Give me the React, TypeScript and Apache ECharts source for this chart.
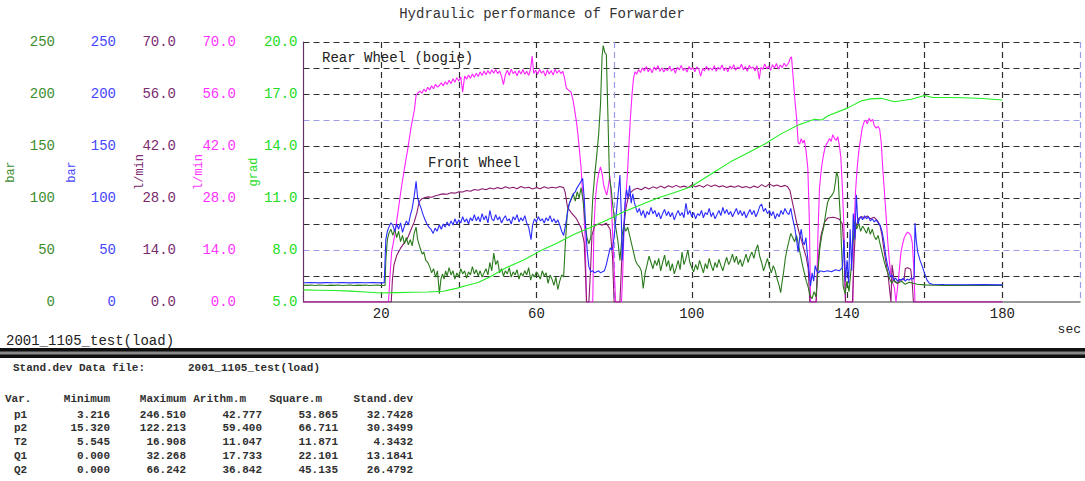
import React, { useEffect, useRef } from 'react';
import * as echarts from 'echarts';

const MONO = '"Liberation Mono", "DejaVu Sans Mono", monospace';

const chartTitle = 'Hydraulic performance of Forwarder';
const fileName = '2001_1105_test(load)';
const xLabelValues = [20, 60, 100, 140, 180];

// p1 (bar) dark green
const p1Data: number[][] = [
  [0,16.2],[1,16.0],[2,16.4],[3,15.9],[4,16.3],[5,16.1],[6,15.8],[7,16.2],[8,16.0],[9,16.4],[10,15.9],[11,16.1],[12,16.3],[13,15.8],[14,16.2],[15,16.0],[16,16.3],[17,15.9],[18,16.1],[19,16.2],[20,15.9],[21,16.0],
  [21.2,40],[21.6,60],[22,66],[22.5,70],[23,64],[23.5,70],[24,62],[24.5,68],[25,58],[25.5,64],[26,56],[26.5,62],[27,55],[27.5,60],[28,54],[28.5,66],[29,72],[29.4,60],[29.8,55],[30.2,50],[30.6,46],[31,48],[31.5,40],[32,38],[32.5,34],[33,28],[33.5,32],[34,24],[34.5,30],[35,8],[35.4,22],[35.8,27],[36.2,22],[36.6,30],[37,25],[37.5,33],[38,26],[38.5,30],[39,22],[39.5,28],[40,24],[40.5,32],[41,27],[41.5,30],[42,23],[42.5,29],[43,26],[43.5,34],[44,27],[44.5,31],[45,25],[45.5,30],[46,24],[46.5,28],[47,32],[47.5,26],[48,38],[48.5,30],[49,47],[49.5,36],[50,40],[50.5,28],[51,32],[51.5,25],[52,30],[52.5,27],[53,33],[53.5,24],[54,29],[54.5,26],[55,31],[55.5,22],[56,28],[56.5,25],[57,30],[57.5,26],[58,33],[58.5,21],[59,27],[59.5,24],[60,29],[60.5,26],[61,22],[61.5,30],[62,25],[62.5,28],[63,18],[63.5,26],[64,22],[64.5,16],[65,24],[65.5,12],[66,20],[66.5,26],[67,24],
  [67.5,60],[68,88],[68.5,95],[69,99],[69.5,104],[70,97],[70.5,106],[71,100],[71.5,110],[72,98],[72.5,78],[73,62],[73.5,56],[74,62],[74.5,100],[75,122],[75.5,140],[76,160],[76.5,190],[76.9,236],[77.2,246.5],[77.6,240],[78,238],[78.4,180],[78.8,120],[79.2,110],[79.6,95],[80,82],[80.5,70],[81,58],[81.5,40],[82,62],[82.5,74],[83,68],[83.5,72],[84,64],[84.5,56],[85,48],[85.5,40],[86,36],[86.5,34],[87,30],[87.5,13],[88,28],[88.5,36],[89,44],[89.5,38],[90,32],[90.5,40],
  [91,35],[91.5,42],[92,30],[92.5,38],[93,45],[93.5,34],[94,40],[94.5,30],[95,37],[95.5,27],[96,33],[96.5,40],[97,31],[97.5,48],[98,36],[98.5,42],[99,50],[99.5,38],[100,33],[100.5,29],[101,36],[101.5,31],[102,40],[102.5,34],[103,28],[103.5,37],[104,32],[104.5,42],[105,35],[105.5,30],[106,38],[106.5,33],[107,41],[107.5,35],[108,30],[108.5,37],[109,43],[109.5,36],[110,40],[110.5,46],[111,38],[111.5,44],[112,36],[112.5,41],[113,34],[113.5,40],[114,46],[114.5,38],[115,44],[115.5,48],[116,42],[116.5,50],[117,55],[117.5,44],[118,38],[118.5,30],[119,36],[119.5,42],[120,34],[120.5,28],[121,35],[121.5,30],[122,22],[122.5,16],[122.9,9],[123.3,20],[123.7,30],[124.1,42],[124.5,50],[125,58],[125.5,66],[126,62],[126.5,58],[127,64],[127.5,55],[128,45],[128.5,36],[129,28],[129.5,20],[130,14],[130.5,6],[131,3.2],[131.5,10],[132,5],[132.5,30],[133,52],[133.5,64],[134,72],[134.5,85],[135,96],[135.5,100],[136,102],[136.6,106],[137,115],[137.3,125],[137.7,120],[138,98],[138.3,80],[138.6,50],[139,15],[139.5,8],[140,20],[140.5,10],[141,30],[141.5,55],[142,78],[142.5,70],[143,76],[143.5,68],[144,73],[144.5,70],[145,66],[145.5,72],[146,65],[146.5,70],[147,63],[147.5,60],[148,64],[148.5,56],[149,48],[149.5,40],[150,33],[150.5,28],[151,22],[151.5,18],[152,21],[153,18],[154,20],[155,17],[156,19],[157,18],[158,17],[160,16.5],[165,16],[170,16.1],[175,15.9],[180,16]
];

// p2 (bar) blue
const p2Data: number[][] = [
  [0,18.5],[2,18.7],[4,18.4],[6,18.6],[8,18.5],[10,18.7],[12,18.4],[14,18.6],[16,18.5],[18,18.7],[20,18.4],[20.8,18.5],[21.2,60],[21.6,68],[22,72],[22.5,76],[23,74],[23.5,68],[24,75],[24.5,70],[25,76],[25.5,67],[26,73],[26.5,78],[27,74],[27.5,83],[28,90],[28.6,104],[29,116],[29.4,100],[29.8,95],[30.3,90],[30.8,84],[31.3,79],[31.8,75],[32.3,72],[32.8,70],[33.4,66],[33.9,71],[34.4,68],[35,74],[35.5,70],[36,75],[36.5,72],[37,77],[37.5,73],[38,78],[38.5,74],[39,80],[39.5,75],[40,79],[40.5,76],[41,82],[41.5,77],[42,80],[42.5,75],[43,81],[43.5,78],[44,84],[44.5,78],[45,82],[45.5,77],[46,85],[46.5,79],[47,83],[47.5,76],[48,88],[48.5,80],[49,78],[49.5,84],[50,79],[50.5,82],[51,76],[51.5,80],[52,83],[52.5,78],[53,80],[53.5,75],[54,82],[54.5,79],[55,84],[55.5,77],[56,81],[56.5,78],[57,83],[57.5,76],[58,72],[58.6,60],[59,74],[59.5,80],[60,77],[60.5,82],[61,78],[61.5,80],[62,76],[62.5,81],[63,78],[63.5,83],[64,77],[64.5,80],[65,76],[65.5,79],[66,74],[66.5,68],[67,64],[67.5,74],[68,86],[68.5,95],[69,100],[69.5,104],[70,106],[70.5,110],[71,113],[71.5,116],[71.9,119],[72.3,100],[72.7,70],[73.1,48],[73.5,34],[74,29],[74.5,30],[75,28],[75.5,29],[76,30],[76.5,28],[77,29],[77.5,30],[78,36],[78.5,44],[79,52],[79.5,50],[80,62],[80.4,78],[80.8,95],[81.2,110],[81.5,122],[81.8,90],[82.1,40],[82.4,60],[82.8,95],[83.2,108],[83.6,100],[84,112],[84.4,95],[84.8,104],[85.2,96],
  [85.5,92],[86,86],[86.5,90],[87,83],[87.5,88],[88,81],[88.5,87],[89,84],[89.5,91],[90,85],[90.5,88],[91,82],[91.5,86],[92,80],[92.5,85],[93,89],[93.5,83],[94,87],[94.5,82],[95,86],[95.5,79],[96,84],[96.5,88],[97,83],[97.5,86],[98,81],[98.5,95],[99,84],[99.5,88],[100,82],[100.5,86],[101,80],[101.5,85],[102,83],[102.5,88],[103,81],[103.5,86],[104,84],[104.5,90],[105,82],[105.5,86],[106,80],[106.5,84],[107,88],[107.5,83],[108,91],[108.5,85],[109,89],[109.5,84],[110,87],[110.5,82],[111,86],[111.5,90],[112,84],[112.5,88],[113,83],[113.5,87],[114,81],[114.5,85],[115,89],[115.5,84],[116,88],[116.5,82],[117,86],[117.5,92],[118,94],[118.5,87],[119,90],[119.5,85],[120,88],[120.5,83],[121,87],[121.5,80],[122,85],[122.5,82],[123,88],[123.5,84],[124,90],[124.5,86],
  [125,84],[125.5,90],[126,80],[126.5,72],[127,60],[127.4,48],[127.8,62],[128.2,70],[128.6,58],[129,55],[129.4,62],[129.8,45],[130.2,30],[130.6,15.5],[131,28],[131.4,20],[131.8,35],[132.2,30],[132.7,28],[133,30],[134,29],[135,30],[136,29],[137,31],[138,30],[138.8,33],[139.2,60],[139.6,20],[140,40],[140.4,18],[140.8,70],[141.2,30],[141.6,85],[142,60],[142.4,103],[142.8,75],[143.2,80],[143.6,82],[144,79],[144.5,83],[145,80],[145.5,82],[146,78],[146.5,80],[147,77],[147.5,79],[148,76],[148.5,74],[149,68],[149.5,58],[150,44],[150.4,36],[150.8,30],[151.2,24],[151.6,26],[152,21],[152.5,23],[153,20],[153.5,22],[154,21],[154.5,23],[155,20],[155.5,22],[156,21],[156.5,23],[157,22],[157.3,24],[157.5,76],[157.8,60],[158.2,48],[158.8,40],[159.4,34],[160,27],[160.6,21],[161.2,18],[162,17],[165,16.8],[170,16.6],[175,16.7],[180,16.5]
];

// T2 (grad) bright green
const t2Data: number[][] = [
  [0,5.7],[4,5.68],[8,5.66],[12,5.63],[16,5.58],[20,5.52],[24,5.54],[28,5.56],[32,5.58],[36,5.62],[39.6,5.8],[42,5.95],[45,6.12],[48.1,6.46],[52.4,7.0],[56.7,7.42],[61,7.95],[65.4,8.4],[69.6,8.9],[73.9,9.3],[78.2,9.73],[82.5,10.2],[86.8,10.6],[91.2,11.0],[95.4,11.3],[99.8,11.65],[105.8,12.5],[110.1,13.1],[114.4,13.6],[118.7,14.1],[123,14.7],[127.3,15.2],[131.6,15.54],[133.5,15.5],[135,15.73],[140.2,16.2],[143.6,16.6],[146,16.72],[148.8,16.75],[152.2,16.55],[156.5,16.7],[160,16.91],[162,16.8],[166,16.8],[170,16.78],[175,16.74],[180,16.65]
];

// Q1 (l/min) purple
const q1Data: number[][] = [
  [0,0],[22.6,0],[22.9,6],[23.3,10],[24,12.5],[25,14.5],[26,16],[26.8,17.2],[27.5,19],[28.5,21.5],[29.2,24],[29.8,27],[30.5,27.8],[31,28],[32,28.3],[33,28.2],[34,28.6],[35,28.9],[36,29.1],[37,29.0],[38,29.4],[39,29.3],[40,29.7],[41,29.6],[42,30],[43,29.8],[44,30.3],[45,30.1],[46,30.5],[47,30.2],[48,30.7],[49,30.4],[50,30.8],[51,30.5],[52,31],[53,30.6],[54,30.9],[55,30.5],[56,31.1],[57,30.7],[58,30.9],[59,30.4],[60,30.8],[61,30.5],[62,31],[63,30.6],[64,30.9],[65,30.7],[66,31.1],[67,30.8],[67.4,29.5],[68,25.5],[69,24],[70.2,22.6],[71.5,20],[72.3,16],[72.7,6],[72.9,0],[73.5,0],[73.9,8],[74.3,18],[75,20.5],[76,21],[77,20.7],[78,21.2],[79,19.5],[79.6,12],[80,0],[81.5,0],[82,12],[82.5,20],[83,25],[83.6,28],[84.3,29.5],[85,30.2],[86,30.6],[87,30.2],[88,30.9],[89,30.4],[90,31],[91,30.6],[92,31.2],[93,30.7],[94,31.3],[95,30.9],[96,31.4],[97,30.9],[98,31.2],[99,30.8],[100,31.5],[101,31],[102,31.4],[103,30.9],[104,31.6],[105,31.1],[106,31.5],[107,31],[108,31.3],[109,30.8],[110,31.2],[111,30.9],[112,31.3],[113,30.8],[114,31.1],[115,30.7],[116,31.2],[117,30.8],[118,31.6],[119,31],[120,31.8],[121,31.2],[122,31.5],[123,31],[124,31.4],[124.7,31],[125.3,30],[125.8,27.5],[126.3,25],[127,21.5],[127.7,18.5],[128.3,16.5],[128.8,14.5],[129.5,12],[130,9],[130.4,0],[132,0],[132.4,8],[132.8,14],[133.3,18],[134.2,21.5],[135,22.6],[136.4,22.8],[137.2,22.6],[138,22.3],[138.8,21],[139.2,14],[139.6,0],[141.4,0],[141.8,12],[142.2,20],[143,22.5],[143.6,23],[144.5,22.6],[145.2,23.2],[146,22.4],[147,22.8],[147.9,21.8],[148.5,20.5],[149,18],[149.5,14],[150,10.8],[150.6,7],[151,3],[151.3,0],[151.6,10],[152.2,5.5],[153,5],[153.8,6],[154.7,6],[155,9],[155.6,9.2],[156.4,8.8],[156.8,5],[157.1,0],[180,0]
];

// Q2 (l/min) magenta
const q2Data: number[][] = [
  [0,0],[21.9,0],[22.3,7.3],[22.7,13.5],[23.5,18],[24.3,24],[25.2,30.7],[26,36],[26.9,41.5],[27.7,47],[28.6,52],[29,55.7],[29.4,56.2],[30,56.8],[30.5,56.2],[31,57.3],[31.5,56.6],[32,57.8],[32.5,57.1],[33,58.2],[33.5,57.4],[34,58.6],[34.5,57.9],[35,58.3],[35.5,59],[36,58.2],[36.5,59.3],[37,58.6],[37.5,59.7],[38,58.8],[38.5,60.1],[39,59.2],[39.5,60.4],[40,59.5],[40.5,60.6],[41,56.5],[41.5,60.8],[42,60],[42.5,61.1],[43,60.2],[43.5,61.4],[44,60.5],[44.5,61.6],[45,60.7],[45.5,61.9],[46,61],[46.5,62.2],[47,61.2],[47.5,62.3],[48,61.4],[48.5,62.5],[49,61.6],[49.5,62.6],[50,61.5],[50.5,62.2],[51,60.8],[51.5,58.5],[52,61.2],[52.5,62.4],[53,61],[53.5,62.7],[54,61.5],[54.5,62.1],[55,60.9],[55.5,62.3],[56,61.4],[56.5,62.6],[57,61.3],[57.5,62.1],[58,61],[58.5,62.8],[58.9,66.2],[59.3,61.5],[59.8,62.4],[60.3,61.3],[60.8,62.6],[61.3,61.6],[61.8,62.2],[62.3,60.8],[62.8,62.5],[63.3,61.4],[63.8,62.3],[64.3,61.1],[64.8,62.7],[65.3,61.6],[65.8,62.4],[66.3,61.5],[66.8,62.1],[67.2,60.5],[67.7,57.6],[68.3,57],[68.9,56.5],[69.4,54.5],[69.8,52],[70.3,48.5],[70.7,45],[71.1,40.5],[71.5,36],[71.8,31],[72.1,27],[72.5,18],[72.9,0],[74.5,0],[74.8,20],[75.2,28],[75.6,32],[76,34.5],[76.5,36.4],[77,34],[77.3,31.5],[77.7,30],[78.1,28.8],[78.5,31],[78.9,34],[79.2,29],[79.5,21.5],[79.8,14],[80.1,7],[80.4,0],[81.9,0],[82.2,7],[82.6,21.5],[83,28],[83.4,34],[83.8,42],[84.2,49.5],[84.6,55.7],[85,60.3],[85.4,62],[85.8,61.3],[86.3,62.6],[86.8,61.8],[87.3,63],[87.8,62.2],[88.3,63.4],[88.8,62],[89.3,62.9],[89.8,61.7],[90.3,63.3],[90.8,62.4],[91.3,63.6],[91.8,62.1],[92.3,63],[92.8,61.9],[93.3,62.8],[93.8,62.3],[94.3,63.5],[94.8,62.2],[95.3,62.9],[95.8,61.6],[96.3,63.2],[96.8,62.5],[97.3,63.7],[97.8,62.3],[98.3,63],[98.8,61.9],[99.3,63.4],[99.8,62.6],[100.3,63.1],[100.8,62],[101.3,63.3],[101.8,62.7],[102.3,60.8],[102.8,62.9],[103.3,62.2],[103.8,63.5],[104.3,62.4],[104.8,63],[105.3,62.4],[105.8,63.6],[106.3,62.1],[106.8,63.2],[107.3,62.6],[107.8,63.8],[108.3,62.3],[108.8,63.1],[109.3,62],[109.8,63.5],[110.3,62.7],[110.8,63.9],[111.3,62.4],[111.8,63.2],[112.3,62.8],[112.8,64],[113.3,62.5],[113.8,63.4],[114.3,62.1],[114.8,63.7],[115.3,62.9],[115.8,63.3],[116.3,62.2],[116.8,63.6],[117.4,60],[117.8,63.2],[118.3,62.6],[118.8,64.1],[119.3,62.8],[119.8,63.5],[120.3,62.4],[120.8,63.9],[121.3,63],[121.8,64.2],[122.3,62.7],[122.8,63.8],[123.3,63.1],[123.8,64.3],[124.3,63.4],[124.7,64],[125,64.5],[125.4,65.7],[125.7,66],[126,62],[126.3,58],[126.6,54],[127,49.5],[127.4,43],[127.8,42.5],[128.2,44],[128.6,42.8],[129,43.6],[129.4,41],[129.9,36],[130.3,21.5],[130.6,0],[132.1,0],[132.5,18],[132.9,30.7],[133.4,36],[133.8,38.8],[134.2,41],[134.6,42.3],[135,43],[135.5,44],[135.9,43.2],[136.3,45],[136.8,44],[137.2,43.5],[137.6,44.5],[138,42.3],[138.4,39],[138.8,30.7],[139.2,20],[139.6,0],[141.5,0],[141.8,20],[142.2,30],[142.6,36],[143,40.4],[143.5,44],[143.9,46.8],[144.4,48.5],[144.8,49],[145.2,48],[145.7,49.5],[146.1,48.6],[146.6,49.2],[147,47.5],[147.5,46.8],[148,47.3],[148.4,46.5],[148.8,43],[149.2,36],[149.6,30],[150,24],[150.5,16],[150.9,11],[151.3,7.3],[151.8,5],[152.2,3.8],[152.6,0],[153,3.8],[153.4,8],[153.9,13.5],[154.3,15.5],[154.7,17.2],[155.2,18.3],[155.6,18.8],[156,18.5],[156.4,18],[156.8,16],[157.2,9],[157.5,0],[180,0]
];

const tableTitle = 'Stand.dev Data file:';
const tableHeader = ['Var.', 'Minimum', 'Maximum', 'Arithm.m', 'Square.m', 'Stand.dev'];
const tableVars = ['p1', 'p2', 'T2', 'Q1', 'Q2'];
const tableMin = ['3.216', '15.320', '5.545', '0.000', '0.000'];
const tableMax = ['246.510', '122.213', '16.908', '32.268', '66.242'];
const tableMean = ['42.777', '59.400', '11.047', '17.733', '36.842'];
const tableSquare = ['53.865', '66.711', '11.871', '22.101', '45.135'];
const tableStd = ['32.7428', '30.3499', '4.3432', '13.1841', '26.4792'];

const DARK = '#2e2e2e';
const BLUISH = '#9c9ce8';

export default function App() {
  const ref = useRef<HTMLDivElement>(null);
  useEffect(() => {
    if (!ref.current) return;
    const chart = echarts.init(ref.current, undefined, { renderer: 'svg' });

    const txt = (text: string, x: number, y: number, size: number, color: string, align = 'left', weight = 'normal') => ({
      type: 'text', x, y, silent: true,
      style: { text, fill: color, font: `${weight} ${size}px ${MONO}`, align, verticalAlign: 'middle' },
    });
    const TS = 11;
    const tcol = '#303030';

    const graphics: any[] = [
      txt(chartTitle, 542, 14, 14, '#333', 'center'),
      txt('Rear Wheel (bogie)', 322, 58, 14, '#222'),
      txt('Front Wheel', 428, 163, 14, '#222'),
      txt('sec', 1081, 329, 13, '#222', 'right'),
      txt(fileName, 6, 341, 14, '#222'),
      { type: 'rect', silent: true, shape: { x: 0, y: 348, width: 1085, height: 10 }, style: { fill: '#111' } },
      { type: 'rect', silent: true, shape: { x: 0, y: 351.5, width: 1085, height: 3 }, style: { fill: '#8a8a8a' } },
      txt(tableTitle, 13, 368, TS, tcol, 'left', 'bold'),
      txt(fileName, 188, 368, TS, tcol, 'left', 'bold'),
    ];
    const headerRight = [0, 110, 186, 246, 322, 413];
    tableHeader.forEach((h, i) => {
      graphics.push(i === 0 ? txt(h, 5, 399, TS, tcol, 'left', 'bold') : txt(h, headerRight[i], 399, TS, tcol, 'right', 'bold'));
    });
    const colRight = [110, 186, 262, 338, 413];
    const cols = [tableMin, tableMax, tableMean, tableSquare, tableStd];
    tableVars.forEach((v, r) => {
      const y = 414.5 + r * 13.9;
      graphics.push(txt(v, 14, y, TS, tcol, 'left', 'bold'));
      cols.forEach((col, c) => graphics.push(txt(col[r], colRight[c], y, TS, tcol, 'right', 'bold')));
    });

    const yAx = (color: string, name: string, offset: number, gap: number, min: number, max: number, interval: number, dec: number, line = false) => ({
      type: 'value', position: 'left', offset, min, max, interval,
      name, nameLocation: 'middle', nameGap: gap, nameRotate: 90, nameMoveOverlap: false,
      nameTextStyle: { color, fontFamily: MONO, fontSize: 12 },
      axisLine: { show: line, lineStyle: { color: '#663366', width: 1.2 } },
      axisTick: { show: false },
      splitLine: { show: false },
      axisLabel: { color, fontFamily: MONO, fontSize: 14, margin: 6, formatter: (v: number) => v.toFixed(dec) },
    });

    const hColors = [DARK, BLUISH, DARK, DARK, DARK, DARK, BLUISH, DARK, DARK, DARK];
    const vColors = [DARK, DARK, DARK, BLUISH, DARK, DARK, DARK, DARK, DARK, BLUISH];

    const line = (name: string, data: number[][], yAxisIndex: number, color: string, z: number) => ({
      name, type: 'line', data, yAxisIndex, xAxisIndex: 0, showSymbol: false, symbol: 'none',
      lineStyle: { width: 1.1, color }, itemStyle: { color }, silent: true, z,
    });

    chart.setOption({
      animation: false,
      backgroundColor: '#fff',
      grid: { left: 303.5, right: 5, top: 42, bottom: 179, containLabel: false, outerBoundsMode: 'none' },
      xAxis: [{
        type: 'value', min: 0, max: 200, interval: 20,
        axisLine: { show: true, lineStyle: { color: '#777', width: 1.5 } },
        axisTick: { show: false },
        axisLabel: {
          color: '#222', fontFamily: MONO, fontSize: 14, margin: 5,
          formatter: (v: number) => (xLabelValues.includes(v) ? String(v) : ''),
        },
        splitLine: { show: true, showMinLine: false, lineStyle: { color: vColors, type: [6, 4], width: 1.2 } },
      }],
      yAxis: [
        yAx('#3c8c2c', 'bar', 242.5, 44, 0, 250, 50, 0),
        yAx('#4545ff', 'bar', 181.5, 44, 0, 250, 50, 0),
        yAx('#7a2a6e', 'l/min', 121.5, 36, 0, 70, 14, 1),
        yAx('#ff33ff', 'l/min', 61.5, 37, 0, 70, 14, 1),
        yAx('#22dd22', 'grad', 0, 44, 5, 20, 3, 1, true),
        {
          type: 'value', position: 'left', min: 0, max: 10, interval: 1,
          axisLine: { show: false }, axisTick: { show: false }, axisLabel: { show: false },
          splitLine: { show: true, showMinLine: false, lineStyle: { color: hColors, type: [6, 4], width: 1.2 } },
        },
      ],
      series: [
        line('Q2', q2Data, 3, '#ff22ff', 2),
        line('Q1', q1Data, 2, '#8a1a70', 3),
        line('p1', p1Data, 0, '#2a7a1c', 4),
        line('p2', p2Data, 1, '#2a2aff', 5),
        line('T2', t2Data, 4, '#22ee22', 6),
      ],
      graphic: graphics,
    });
    return () => chart.dispose();
  }, []);
  return <div ref={ref} style={{ position: 'absolute', left: 0, top: 0, width: 1085, height: 481, background: '#fff' }} />;
}
